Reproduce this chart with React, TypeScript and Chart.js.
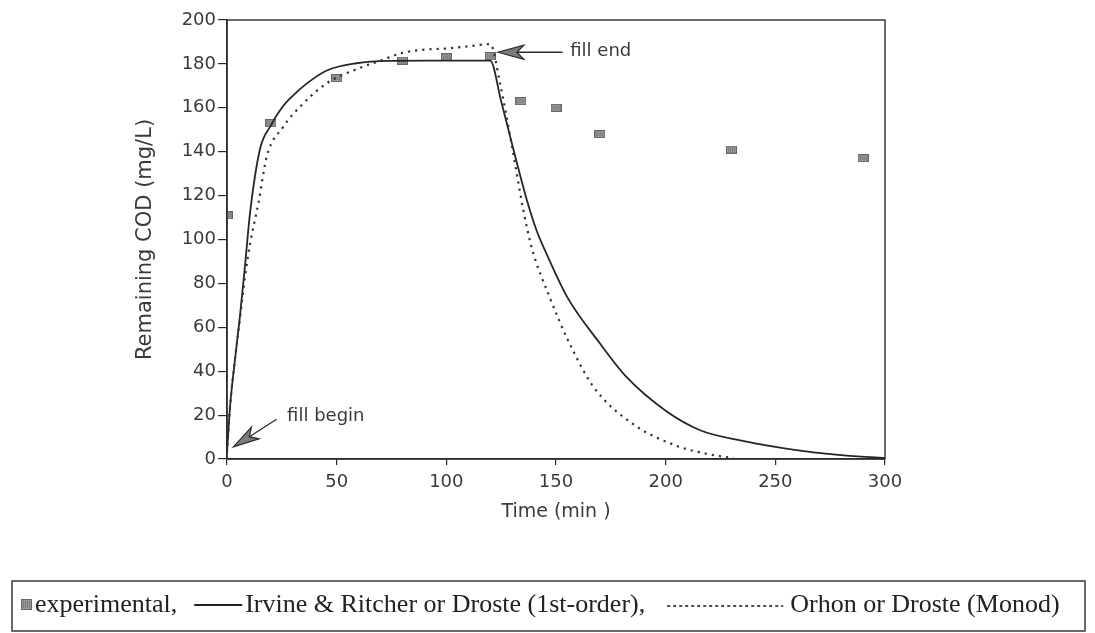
import React, { useEffect, useRef } from 'react';
import { Chart, registerables } from 'chart.js';

Chart.register(...registerables);

// ---------- data ----------
const expTime = [0, 20, 50, 80, 100, 120, 134, 150, 170, 230, 290];
const expCOD = [111, 153, 173.5, 181.5, 183, 183.5, 163, 160, 148, 141, 137];

const firstOrderTime = [0, 1.4, 3.6, 5.9, 8.2, 10.5, 15, 20, 25, 29.5, 36.3, 45.5, 59, 74, 90, 105, 120, 125, 130.6, 136.7, 141.2, 145, 155, 170, 182, 200, 216, 234, 258, 280, 300];
const firstOrderCOD = [3, 24, 45, 65, 88, 112, 141, 152, 160, 165, 171, 177, 180.3, 181.4, 181.5, 181.5, 181.5, 163, 141, 118, 104, 95, 74, 52.7, 37.5, 22, 13, 8.5, 4.3, 1.8, 0.5];

const monodTime = [0, 1.4, 3.6, 5.9, 8.2, 10.5, 14.3, 18.1, 25.7, 33.3, 45.5, 62, 70, 80, 90, 100, 110, 120, 124.5, 130, 135, 139, 147, 156, 167, 185, 205, 218, 231];
const monodCOD = [3, 24, 45, 64, 83, 98, 116.5, 137.7, 151.4, 160.5, 171.2, 178.7, 181.5, 185, 186.5, 187, 188, 189, 171, 142, 114, 96, 74, 53, 33, 16, 6, 2.5, 0.3];

const xTickValues = [0, 50, 100, 150, 200, 250, 300];
const yTickValues = [0, 20, 40, 60, 80, 100, 120, 140, 160, 180, 200];

const legendLabels = ['experimental,', 'Irvine & Ritcher or Droste (1st-order),', 'Orhon or Droste (Monod)'];

const annotationTexts = ['fill end', 'fill begin'];
const annotationTipX = [123.5, 2.9];
const annotationTipY = [185.3, 5.5];
const annotationTailX = [153, 22.6];
const annotationTailY = [185.3, 18.1];
const annotationTextX = [156.5, 27.4];
const annotationTextY = [185.6, 19.3];

const INK = '#2b2b2b';
const TEXT = '#3a3a3a';

function makeMarker(w: number, h: number): HTMLCanvasElement {
  const c = document.createElement('canvas');
  c.width = w;
  c.height = h;
  const g = c.getContext('2d')!;
  g.fillStyle = '#666666';
  g.fillRect(0, 0, w, h);
  g.fillStyle = '#999999';
  g.fillRect(1, 1, w - 2, h - 2);
  g.fillStyle = '#7a7a7a';
  for (let i = 2; i < w - 1; i += 2) g.fillRect(i, 2, 1, h - 4);
  return c;
}

const framePlugin = {
  id: 'frame',
  afterDraw(chart: any) {
    const { ctx, chartArea } = chart;
    ctx.save();
    ctx.strokeStyle = INK;
    ctx.lineWidth = 1.4;
    ctx.strokeRect(chartArea.left, chartArea.top, chartArea.right - chartArea.left, chartArea.bottom - chartArea.top);
    ctx.restore();
  },
};

const annotationPlugin = {
  id: 'annotations',
  afterDatasetsDraw(chart: any) {
    const { ctx, scales } = chart;
    const xs = scales.x;
    const ys = scales.y;
    ctx.save();
    for (let i = 0; i < annotationTexts.length; i++) {
      const tx = xs.getPixelForValue(annotationTipX[i]);
      const ty = ys.getPixelForValue(annotationTipY[i]);
      const ex = xs.getPixelForValue(annotationTailX[i]);
      const ey = ys.getPixelForValue(annotationTailY[i]);
      const ang = Math.atan2(ey - ty, ex - tx);
      const headLen = 26;
      const headHalf = 7;
      const bx = tx + Math.cos(ang) * headLen;
      const by = ty + Math.sin(ang) * headLen;
      const nx = -Math.sin(ang);
      const ny = Math.cos(ang);
      const notchX = bx - Math.cos(ang) * 7;
      const notchY = by - Math.sin(ang) * 7;
      ctx.strokeStyle = INK;
      ctx.lineWidth = 1.3;
      ctx.beginPath();
      ctx.moveTo(notchX, notchY);
      ctx.lineTo(ex, ey);
      ctx.stroke();
      ctx.beginPath();
      ctx.moveTo(tx, ty);
      ctx.lineTo(bx + nx * headHalf, by + ny * headHalf);
      ctx.lineTo(notchX, notchY);
      ctx.lineTo(bx - nx * headHalf, by - ny * headHalf);
      ctx.closePath();
      ctx.fillStyle = '#7c7c7c';
      ctx.fill();
      ctx.lineWidth = 1.2;
      ctx.stroke();
      ctx.fillStyle = TEXT;
      ctx.font = '18px "DejaVu Sans"';
      ctx.textAlign = 'left';
      ctx.textBaseline = 'middle';
      ctx.fillText(annotationTexts[i], xs.getPixelForValue(annotationTextX[i]), ys.getPixelForValue(annotationTextY[i]));
    }
    ctx.restore();
  },
};

const legendPlugin = {
  id: 'paperLegend',
  afterDraw(chart: any) {
    const { ctx } = chart;
    ctx.save();
    const boxL = 12, boxT = 581, boxR = 1085, boxB = 631;
    ctx.strokeStyle = '#444';
    ctx.lineWidth = 1.6;
    ctx.strokeRect(boxL, boxT, boxR - boxL, boxB - boxT);
    const cy = 605;
    ctx.font = '26px "Liberation Serif"';
    ctx.fillStyle = '#222';
    ctx.textBaseline = 'middle';
    ctx.textAlign = 'left';
    let x = 21;
    ctx.drawImage(makeMarker(11, 11), x, cy - 6);
    x += 14;
    ctx.fillText(legendLabels[0], x, cy);
    x += ctx.measureText(legendLabels[0]).width + 17;
    ctx.strokeStyle = '#222';
    ctx.lineWidth = 2;
    ctx.beginPath();
    ctx.moveTo(x, cy);
    ctx.lineTo(x + 48, cy);
    ctx.stroke();
    x += 51;
    ctx.fillText(legendLabels[1], x, cy);
    x += ctx.measureText(legendLabels[1]).width + 22;
    ctx.setLineDash([3, 3]);
    ctx.lineWidth = 1.6;
    ctx.beginPath();
    ctx.moveTo(x, cy + 1);
    ctx.lineTo(x + 116, cy + 1);
    ctx.stroke();
    ctx.setLineDash([]);
    x += 123;
    ctx.fillText(legendLabels[2], x, cy);
    ctx.restore();
  },
};

export default function App() {
  const ref = useRef<HTMLCanvasElement | null>(null);

  useEffect(() => {
    document.body.style.margin = '0';
    document.body.style.background = '#ffffff';
    const canvas = ref.current;
    if (!canvas) return;

    const marker = makeMarker(11, 8);
    const toXY = (xs: number[], ys: number[]) => xs.map((v, i) => ({ x: v, y: ys[i] }));

    const tickFont = { family: '"DejaVu Sans"', size: 18 };
    const titleFont = { family: '"DejaVu Sans"', size: 19 };

    const chart = new Chart(canvas, {
      type: 'line',
      data: {
        datasets: [
          {
            label: 'Orhon or Droste (Monod)',
            data: toXY(monodTime, monodCOD),
            borderColor: '#333',
            borderWidth: 2.2,
            borderDash: [2.2, 5],
            pointRadius: 0,
            cubicInterpolationMode: 'monotone',
            fill: false,
          },
          {
            label: 'Irvine & Ritcher or Droste (1st-order)',
            data: toXY(firstOrderTime, firstOrderCOD),
            borderColor: '#262626',
            borderWidth: 1.8,
            pointRadius: 0,
            cubicInterpolationMode: 'monotone',
            fill: false,
          },
          {
            label: 'experimental',
            data: toXY(expTime, expCOD),
            showLine: false,
            pointStyle: marker as any,
            pointRadius: 5,
            borderColor: '#666',
            backgroundColor: '#8f8f8f',
          },
        ],
      },
      options: {
        responsive: false,
        animation: false,
        devicePixelRatio: 1,
        layout: { padding: { left: 120, right: 210, top: 20, bottom: 108 } },
        plugins: {
          legend: { display: false },
          tooltip: { enabled: false },
        },
        scales: {
          x: {
            type: 'linear',
            min: 0,
            max: 300,
            afterBuildTicks: (scale: any) => {
              scale.ticks = xTickValues.map((v) => ({ value: v }));
            },
            ticks: { font: tickFont, color: TEXT, padding: 7, maxRotation: 0 },
            grid: { drawOnChartArea: false, tickLength: 6, color: INK, lineWidth: 1.2 },
            border: { color: INK, width: 1.5 },
            title: { display: true, text: 'Time (min )', font: titleFont, color: TEXT, padding: { top: 0, bottom: 2 } },
            afterFit: (scale: any) => {
              scale.height = 66;
            },
          },
          y: {
            type: 'linear',
            min: 0,
            max: 200,
            afterBuildTicks: (scale: any) => {
              scale.ticks = yTickValues.map((v) => ({ value: v }));
            },
            ticks: { font: tickFont, color: TEXT, padding: 2 },
            grid: { drawOnChartArea: false, tickLength: 9, color: INK, lineWidth: 1.2 },
            border: { color: INK, width: 1.5 },
            title: { display: true, text: 'Remaining COD (mg/L)', font: { family: '"DejaVu Sans"', size: 21 }, color: TEXT, padding: { top: 13, bottom: 0 } },
            afterFit: (scale: any) => {
              scale.width = 107;
            },
          },
        },
      },
      plugins: [framePlugin, annotationPlugin, legendPlugin],
    } as any);

    return () => chart.destroy();
  }, []);

  return (
    <div style={{ width: 1095, height: 633, overflow: 'hidden' }}>
      <canvas ref={ref} width={1095} height={633} style={{ display: 'block' }} />
    </div>
  );
}
